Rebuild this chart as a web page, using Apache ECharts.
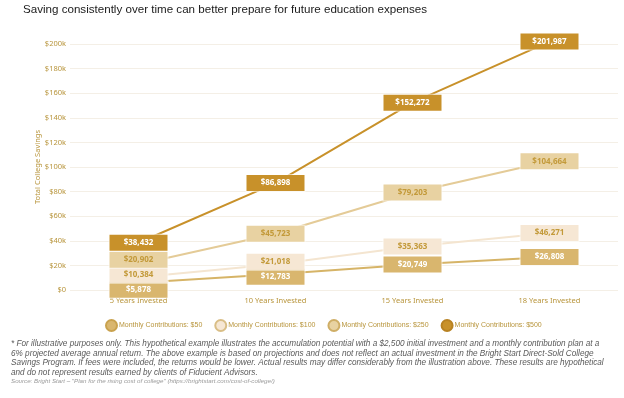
<!DOCTYPE html>
<html>
<head>
<meta charset="utf-8">
<script src="https://cdn.jsdelivr.net/npm/echarts@6/dist/echarts.min.js"></script>
<style>
  html, body { margin: 0; padding: 0; background: #fff; }
  #main { width: 624px; height: 398px; }
</style>
</head>
<body>
<div id="main"></div>
<script>
const categories = ['5 Years Invested', '10 Years Invested', '15 Years Invested', '18 Years Invested']
const seriesNames = ['Monthly Contributions: $50', 'Monthly Contributions: $100', 'Monthly Contributions: $250', 'Monthly Contributions: $500']
const contrib50 = [5878, 12783, 20749, 26808]
const contrib100 = [10384, 21018, 35363, 46271]
const contrib250 = [20902, 45723, 79203, 104664]
const contrib500 = [38432, 86898, 152272, 201987]
const yTicks = ['$0', '$20k', '$40k', '$60k', '$80k', '$100k', '$120k', '$140k', '$160k', '$180k', '$200k']

const footnote = [
  '* For illustrative purposes only. This hypothetical example illustrates the accumulation potential with a $2,500 initial investment and a monthly contribution plan at a',
  '6% projected average annual return. The above example is based on projections and does not reflect an actual investment in the Bright Start Direct-Sold College',
  'Savings Program. If fees were included, the returns would be lower. Actual results may differ considerably from the illustration above. These results are hypothetical',
  'and do not represent results earned by clients of Fiducient Advisors.'
]
const source = 'Source: Bright Start – "Plan for the rising cost of college" (https://brightstart.com/cost-of-college/)'

const gold = '#B8953C'
const styles = [
  { line: '#D6B467', box: '#D9B66E', text: '#ffffff', border: '#C9A24E' },
  { line: '#F4E5D0', box: '#F6E7D4', text: '#C39A3A', border: '#D9BE86' },
  { line: '#E4CB97', box: '#E8D2A2', text: '#C39A3A', border: '#CFAE66' },
  { line: '#C8912A', box: '#C8912A', text: '#ffffff', border: '#B88222' }
]
const allData = [contrib50, contrib100, contrib250, contrib500]

const chart = echarts.init(document.getElementById('main'))

function buildSeries(offsets) {
  return allData.map((d, i) => ({
    name: seriesNames[i],
    type: 'line',
    data: d.map((v, c) => ({ value: v, label: { offset: [0, offsets ? offsets[i][c] : 0] } })),
    z: 2 + i,
    clip: false,
    symbol: 'circle',
    symbolSize: 1,
    lineStyle: { color: styles[i].line, width: 2 },
    itemStyle: { color: styles[i].box, borderColor: styles[i].border, borderWidth: 1 },
    label: {
      show: true,
      position: 'inside',
      formatter: p => '$' + p.value.toLocaleString('en-US'),
      fontFamily: 'Noto Sans',
      fontSize: 8,
      fontWeight: 'bold',
      color: styles[i].text,
      backgroundColor: styles[i].box,
      borderColor: 'rgba(255,255,255,0.6)',
      borderWidth: 1,
      width: 58,
      height: 16,
      lineHeight: 16,
      align: 'center',
      verticalAlign: 'middle'
    },
    emphasis: { disabled: true }
  }))
}

const option = {
  animation: false,
  title: {
    text: 'Saving consistently over time can better prepare for future education expenses',
    left: 18,
    top: -1,
    textStyle: { fontFamily: 'Liberation Sans', fontSize: 11.6, fontWeight: 'normal', color: '#1a1a1a' }
  },
  legend: {
    data: seriesNames,
    top: 314,
    left: 100,
    itemWidth: 11,
    itemHeight: 11,
    itemGap: 12,
    icon: 'circle',
    textStyle: { fontFamily: 'Liberation Sans', fontSize: 7, color: gold, padding: [0, 0, 0, -3] }
  },
  grid: { left: 70, right: 6, top: 44, bottom: 108 },
  xAxis: {
    type: 'category',
    data: categories,
    axisLine: { show: false },
    axisTick: { show: false },
    axisLabel: { fontFamily: 'Noto Sans', fontSize: 7.5, color: gold, margin: 7 }
  },
  yAxis: {
    type: 'value',
    min: 0,
    max: 200000,
    interval: 20000,
    name: 'Total College Savings',
    nameLocation: 'middle',
    nameGap: 28,
    nameMoveOverlap: false,
    nameTextStyle: { fontFamily: 'Noto Sans', fontSize: 7.5, color: gold },
    axisLabel: {
      fontFamily: 'Noto Sans', fontSize: 7.5, color: gold, margin: 4,
      formatter: v => yTicks[Math.round(v / 20000)]
    },
    splitLine: { lineStyle: { color: '#F4EFE6', width: 1 } }
  },
  series: buildSeries(null),
  graphic: [
    ...footnote.map((t, i) => ({
      type: 'text',
      left: 11,
      top: 340 + i * 9.5,
      style: { text: t, font: 'italic 8.2px Liberation Sans', fill: '#5a5a5a' }
    })),
    {
      type: 'text',
      left: 11,
      top: 378,
      style: { text: source, font: 'italic 6.2px Liberation Sans', fill: '#999' }
    }
  ]
}

chart.setOption(option)

// spread overlapping value boxes apart at each category, using the chart's own pixel scale
const minGap = 15
const offsets = allData.map(d => d.map(() => 0))
categories.forEach((cat, c) => {
  const pts = allData.map((d, s) => ({ s, y0: chart.convertToPixel({ seriesIndex: s }, [c, d[c]])[1] }))
  pts.forEach(p => { p.y = p.y0 })
  pts.sort((a, b) => a.y0 - b.y0)
  for (let it = 0; it < 60; it++) {
    for (let k = 0; k < pts.length - 1; k++) {
      const gap = pts[k + 1].y - pts[k].y
      if (gap < minGap) {
        const push = (minGap - gap) / 2
        pts[k].y -= push
        pts[k + 1].y += push
      }
    }
  }
  pts.forEach(p => { offsets[p.s][c] = p.y - p.y0 })
})
chart.setOption({ series: buildSeries(offsets) })
</script>
</body>
</html>
